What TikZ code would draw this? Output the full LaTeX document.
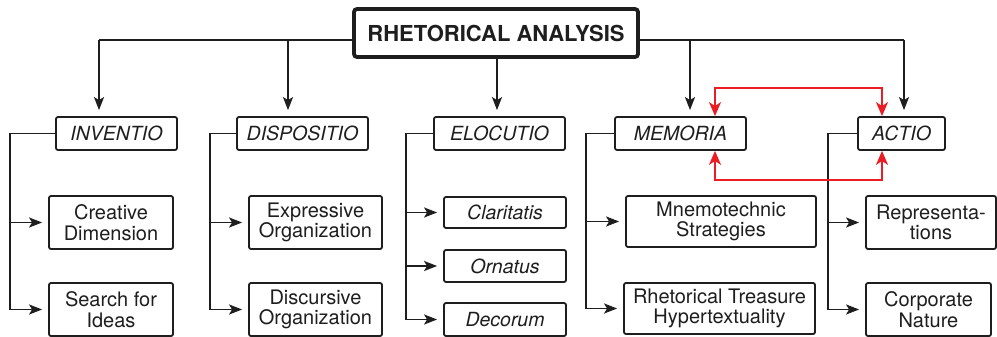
\documentclass[tikz,border=0pt]{standalone}
\usepackage{fontspec}
\setmainfont{TeX Gyre Heros}
\usetikzlibrary{arrows.meta}
\definecolor{arrred}{RGB}{236,28,36}
\definecolor{ink}{RGB}{30,30,30}
\begin{document}
\begin{tikzpicture}[x=1pt,y=-1pt,
  box/.style={draw=ink, text=ink, line width=1.8pt, rounded corners=2pt, inner sep=0pt, align=center,
    font=\fontsize{20}{20.5}\selectfont},
  lvl/.style={box, font=\fontsize{19.5}{20}\selectfont\itshape, minimum height=33pt},
  kid/.style={box, minimum height=53pt},
  ital/.style={box, font=\fontsize{19.5}{20}\selectfont\itshape, minimum height=32pt, minimum width=122pt},
  titlebox/.style={draw=ink, text=ink, line width=3.8pt, rounded corners=3pt, inner sep=0pt,
    font=\fontsize{22}{24}\selectfont\bfseries, minimum width=284pt, minimum height=48pt},
  conn/.style={draw=ink, line width=1.8pt, -{Stealth[length=13pt,width=10pt,inset=3pt]}, shorten >=6pt},
  line/.style={draw=ink, line width=1.8pt},
  redarr/.style={draw=arrred, line width=2.2pt, {Stealth[length=14pt,width=12pt,inset=4pt]}-{Stealth[length=14pt,width=12pt,inset=4pt]}}
]
\fill[white] (0,0) rectangle (997,337);
\useasboundingbox (0,0) rectangle (997,337);

% title
\node[titlebox] (title) at (496,33) {RHETORICAL ANALYSIS};

% level 2
\node[lvl, minimum width=121pt] (inv) at (116.5,133.5) {INVENTIO};
\node[lvl, minimum width=131pt] (dis) at (302.5,133.5) {DISPOSITIO};
\node[lvl, minimum width=131pt] (elo) at (499.5,133.5) {ELOCUTIO};
\node[lvl, minimum width=131pt] (mem) at (680.5,133.5) {MEMORIA};
\node[lvl, minimum width=87pt] (act) at (901.5,133.5) {ACTIO};

% children
\node[kid, minimum width=124pt] (cd) at (111,222.5) {Creative\\Dimension};
\node[kid, minimum width=124pt] (si) at (111,309.5) {Search for\\Ideas};
\node[kid, minimum width=133pt] (eo) at (315.5,222.5) {Expressive\\Organization};
\node[kid, minimum width=133pt] (do) at (315.5,309.5) {Discursive\\Organization};
\node[ital, minimum height=31pt] (cl) at (505,212.5) {Claritatis};
\node[ital] (or) at (505,266) {Ornatus};
\node[ital, minimum height=33pt] (de) at (505,319.5) {Decorum};
\node[kid, minimum width=190pt, minimum height=51pt] (ms) at (721,221.5) {Mnemotechnic\\Strategies};
\node[kid, minimum width=191pt, minimum height=51pt] (rt) at (719.5,308.5) {Rhetorical Treasure\\Hypertextuality};
\node[kid, minimum width=130pt] (re) at (931,222.5) {Representa-\\tions};
\node[kid, minimum width=125pt] (cn) at (928.5,309.5) {Corporate\\Nature};

% top connectors
\coordinate (d1) at (99,40);
\coordinate (d2) at (288,40);
\coordinate (d3) at (497,40);
\coordinate (d4) at (690,40);
\coordinate (d5) at (904,40);
\path[line] (title.west |- d1) -- (d1);
\path[line] (title.east |- d5) -- (d5);
\path[conn] (d1) -- (d1 |- inv.north);
\path[conn] (d2) -- (d2 |- dis.north);
\path[conn] (title.south -| d3) -- (d3 |- elo.north);
\path[conn] (d4) -- (d4 |- mem.north);
\path[conn] (d5) -- (d5 |- act.north);

% side connectors
\coordinate (s1) at (10,0);
\coordinate (s2) at (210,0);
\coordinate (s3) at (406,0);
\coordinate (s4) at (586,0);
\coordinate (s5) at (828,0);
\path[conn] (inv.west) -| (s1 |- si.west) -- (si.west);
\path[conn] (s1 |- cd.west) -- (cd.west);
\path[conn] (dis.west) -| (s2 |- do.west) -- (do.west);
\path[conn] (s2 |- eo.west) -- (eo.west);
\path[conn] (elo.west) -| (s3 |- de.west) -- (de.west);
\path[conn] (s3 |- cl.west) -- (cl.west);
\path[conn] (s3 |- or.west) -- (or.west);
\path[conn] (mem.west) -| (s4 |- rt.west) -- (rt.west);
\path[conn] (s4 |- ms.west) -- (ms.west);
\path[conn] (act.west) -| (s5 |- cn.west) -- (cn.west);
\path[conn] (s5 |- re.west) -- (re.west);

% red links
\coordinate (r1) at (715,88);
\coordinate (r2) at (882,88);
\coordinate (r3) at (715,180);
\coordinate (r4) at (882,180);
\path[redarr] (r1 |- mem.north) -- (r1) -- (r2) -- (r2 |- act.north);
\path[redarr] (r3 |- mem.south) -- (r3) -- (r4) -- (r4 |- act.south);
\end{tikzpicture}
\end{document}
